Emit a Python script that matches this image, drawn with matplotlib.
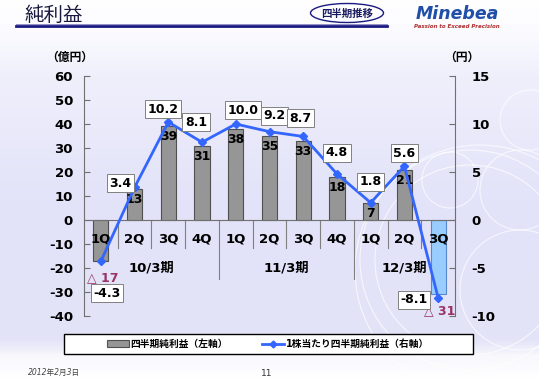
import numpy as np
import matplotlib.pyplot as plt
from matplotlib.patches import Patch, Ellipse, Circle, Rectangle
from matplotlib.lines import Line2D
from matplotlib.colors import LinearSegmentedColormap

plt.rcParams['font.family'] = ['DejaVu Sans', 'Noto Sans CJK JP']
plt.rcParams['axes.unicode_minus'] = False

# Data
quarters = ['1Q', '2Q', '3Q', '4Q', '1Q', '2Q', '3Q', '4Q', '1Q', '2Q', '3Q']
periods = ['10/3期', '11/3期', '12/3期']
period_slots = [[0, 1, 2, 3], [4, 5, 6, 7], [8, 9, 10]]
net_income = [-17, 13, 39, 31, 38, 35, 33, 18, 7, 21, -31]   # 億円 (left axis)
eps = [-4.3, 3.4, 10.2, 8.1, 10.0, 9.2, 8.7, 4.8, 1.8, 5.6, -8.1]  # 円 (right axis)

W, H = 539, 380
fig = plt.figure(figsize=(W / 100, H / 100), dpi=100)

# background gradient
bg = fig.add_axes([0, 0, 1, 1], zorder=-10)
cmap = LinearSegmentedColormap.from_list('bgc', [
    (0.0, '#ffffff'), (0.08, '#fbfbff'), (0.2, '#efeffc'), (0.55, '#e2e2f9'),
    (0.9, '#e4e4f8'), (0.94, '#f8f8fd'), (1.0, '#ffffff')])
grad = np.linspace(0, 1, 200).reshape(-1, 1)
bg.imshow(grad, aspect='auto', cmap=cmap, extent=[0, W, H, 0])
for cx, cy, r in [(470, 260, 95), (470, 260, 110), (480, 270, 125), (520, 190, 40),
                  (520, 290, 60), (450, 180, 28), (530, 120, 30)]:
    bg.add_patch(Circle((cx, cy), r, fill=False, ec='white', lw=0.8, alpha=0.7))
bg.set_xlim(0, W)
bg.set_ylim(H, 0)
bg.axis('off')

# header
bg.text(25, 15, '純利益', fontsize=14, color='#1a1a40', va='center', ha='left')
bg.plot([16, 387], [25.5, 25.5], color='#1a1a80', lw=2)
bg.plot([16, 387], [23.5, 23.5], color='#7f7fc0', lw=0.6)
bg.add_patch(Ellipse((347, 13), 73, 19, fill=False, ec='#1a1a80', lw=1))
bg.text(347, 13.5, '四半期推移', fontsize=7.5, color='#1a1a60', ha='center', va='center',
        fontweight='bold')
bg.text(457, 14, 'Minebea', fontsize=12.5, color='#1f4fa8', fontweight='bold',
        style='italic', ha='center', va='center')
bg.text(457, 26, 'Passion to Exceed Precision', fontsize=4, color='#b03030',
        fontweight='bold', style='italic', ha='center', va='center')
bg.text(70, 57, '（億円）', fontsize=8.5, fontweight='bold', ha='center', va='center')
bg.text(462, 57, '（円）', fontsize=8.5, fontweight='bold', ha='center', va='center')
bg.text(28, 372, '2012年2月3日', fontsize=5.5, style='italic', color='#444444',
        ha='left', va='center')
bg.text(267, 373, '11', fontsize=6.5, color='#333333', ha='center', va='center')
bg.add_patch(Rectangle((64, 334), 409, 20, fc='white', ec='black', lw=1))

# main axes
ax = fig.add_axes([84 / W, 1 - 316 / H, 371 / W, 240 / H])
ax.set_facecolor('none')
x = np.arange(len(net_income))
colors = ['#969696'] * (len(net_income) - 1) + ['#99ccff']
edges = ['#505050'] * (len(net_income) - 1) + ['#5588cc']
ax.bar(x, net_income, width=0.45, color=colors, edgecolor=edges, linewidth=0.8, zorder=2)
ax.set_xlim(-0.5, len(x) - 0.5)
ax.set_ylim(-40, 60)
ax.set_yticks(range(-40, 61, 10))
ax.set_xticks([])
for s in ['top', 'right']:
    ax.spines[s].set_visible(False)
ax.spines['bottom'].set_position(('data', 0))
ax.spines['bottom'].set_color('#707070')
ax.spines['left'].set_color('#707070')
ax.tick_params(axis='y', direction='in', length=4, color='#707070', pad=8,
               labelsize=9.5)
for t in ax.get_yticklabels():
    t.set_fontweight('bold')

# bar value labels
for i, v in enumerate(net_income):
    if v >= 0:
        ax.annotate(str(v), (i, v), xytext=(0, -4), textcoords='offset pixels',
                    ha='center', va='top', fontsize=9, fontweight='bold', zorder=5)
    else:
        ax.annotate('△ ' + str(-v), (i, v), xytext=(2, -10), textcoords='offset pixels',
                    ha='center', va='top', fontsize=9, fontweight='bold',
                    color='#993366')

# quarter / period labels and separators
for i, q in enumerate(quarters):
    ax.text(i, -8, q, ha='center', va='center', fontsize=9.5, fontweight='bold')
group_edges = [3.5, 7.5]
for b in np.arange(0.5, len(x) - 1, 1.0):
    low = -24.5 if b in group_edges else -11.7
    ax.plot([b, b], [0, low], color='#808080', lw=0.8, clip_on=False)
for name, slots in zip(periods, period_slots):
    ax.text(np.mean(slots), -20, name, ha='center', va='center', fontsize=9.5,
            fontweight='bold')

# EPS line
ax2 = ax.twinx()
ax2.set_ylim(-10, 15)
ax2.set_yticks(range(-10, 16, 5))
ax2.plot(x, eps, color='#3366ff', lw=2, marker='D', ms=4, zorder=4)
for s in ['top', 'left', 'bottom']:
    ax2.spines[s].set_visible(False)
ax2.spines['right'].set_color('#707070')
ax2.tick_params(axis='y', direction='in', length=4, color='#707070', pad=12,
                labelsize=9.5)
for t in ax2.get_yticklabels():
    t.set_fontweight('bold')

label_offsets = [(6, -32), (-14, 4), (-5, 13), (-6, 20), (7, 14), (5, 16),
                 (-3, 18), (0, 21), (0, 21), (0, 13), (-24, -2)]
for i, (v, off) in enumerate(zip(eps, label_offsets)):
    ax2.annotate(f'{v:.1f}', (i, v), xytext=off, textcoords='offset pixels',
                 ha='center', va='center', fontsize=9, fontweight='bold', zorder=6,
                 bbox=dict(boxstyle='square,pad=0.2', fc='white', ec='#808080', lw=0.7))

# legend
handles = [Patch(fc='#969696', ec='#505050', lw=0.8),
           Line2D([0], [0], color='#3366ff', lw=2, marker='D', ms=3.5)]
labels = ['四半期純利益（左軸）', '1株当たり四半期純利益（右軸）']
leg = fig.legend(handles, labels, loc='center', ncol=2,
                 bbox_to_anchor=(268 / W, 1 - 344 / H), fontsize=7,
                 frameon=False, columnspacing=3.5, handlelength=2.2,
                 handletextpad=0.2)
for t in leg.get_texts():
    t.set_fontweight('bold')

fig.savefig('out.png', dpi=100)
